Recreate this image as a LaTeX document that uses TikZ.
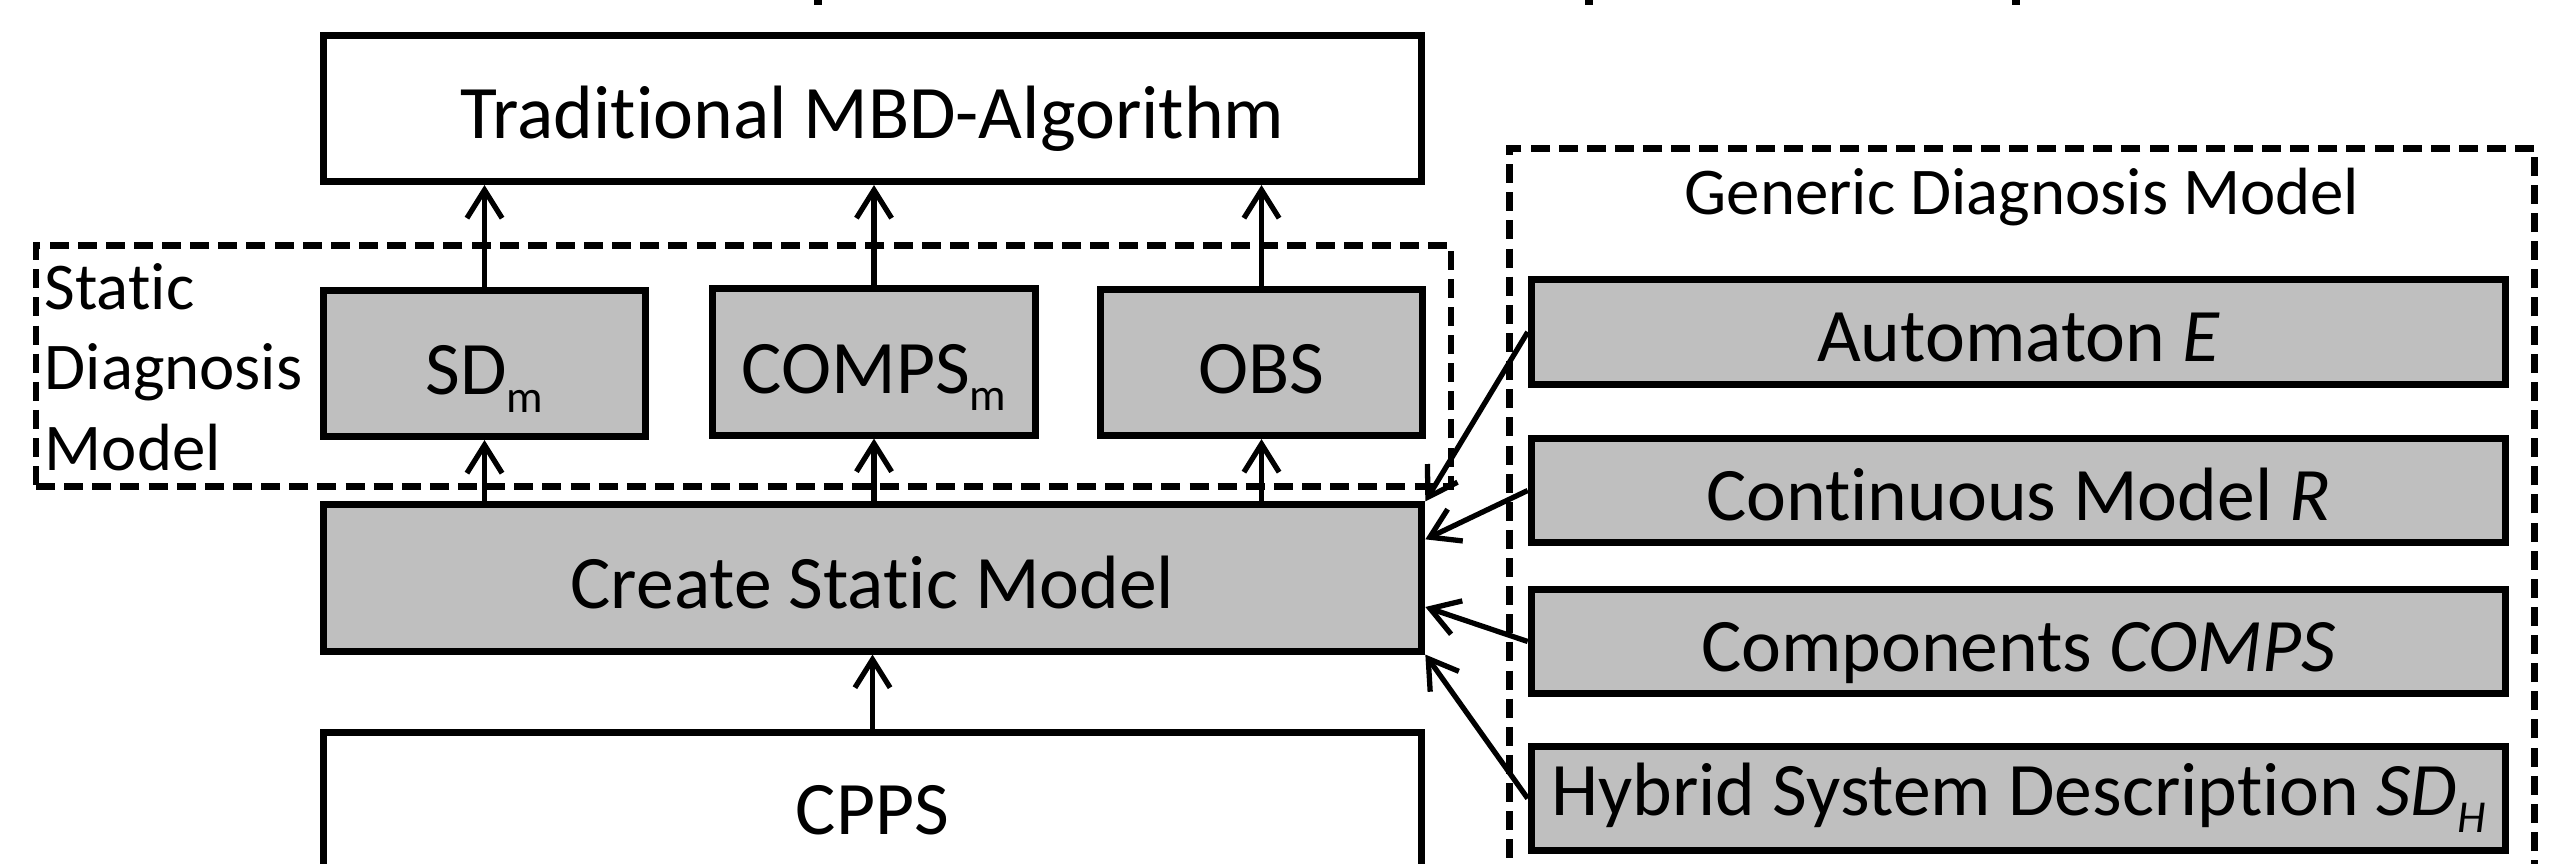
\documentclass[tikz,border=0pt]{standalone}
\usepackage{fontspec}
\setmainfont{Carlito}[Ligatures={NoCommon,NoContextual}]
\usetikzlibrary{arrows.meta,calc}
\definecolor{boxgray}{RGB}{191,191,191}
\newcommand\mainfs{\fontsize{21.5}{25}\selectfont}
\newcommand\labfs{\fontsize{19}{22.8}\selectfont}
\newcommand\subtx[1]{\raisebox{-5pt}{\fontsize{13}{13}\selectfont #1}}
\begin{document}
\begin{tikzpicture}[x=0.01cm,y=-0.01cm,
  bigbox/.style={draw=black, line width=2pt, minimum width=10.98cm, minimum height=1.46cm,
    inner sep=0pt, font=\mainfs, text height=0.6cm, text depth=0pt},
  smallbox/.style={draw=black, fill=boxgray, line width=2pt, minimum width=3.22cm, minimum height=1.46cm,
    inner sep=0pt, font=\mainfs, text height=0.62cm, text depth=0pt},
  rbox/.style={draw=black, fill=boxgray, line width=2pt, minimum width=9.74cm, minimum height=1.04cm,
    inner sep=0pt, font=\mainfs, text height=0.59cm, text depth=0pt},
  dashbox/.style={draw=black, line width=1.9pt, dash pattern=on 5.4pt off 2.6pt, inner sep=0pt},
  arr/.style={line width=1.5pt, -{Straight Barb[length=8pt,width=10pt,line width=1.5pt]}}]
\useasboundingbox (0,0) rectangle (2563,864);
\clip (0,0) rectangle (2563,864);
% fragments of a cut-off title line
\fill (814,0) rectangle (822,5);
\fill (1585,0) rectangle (1593,5);
\fill (2012,0) rectangle (2020,5);
% dashed groups
\node[dashbox, minimum width=14.14cm, minimum height=2.41cm] (static) at (743.5,366) {};
\node[dashbox, minimum width=10.25cm, minimum height=8.02cm] (generic) at (2022,549.5) {};
\node[anchor=north west, inner sep=0pt, align=left, font=\labfs] (staticlbl) at (44,263) {Static\\Diagnosis\\Model};
\node[anchor=base, inner sep=0pt, font=\labfs] (genlbl) at (2022,215) {Generic Diagnosis Model};
% left column
\node[bigbox] (trad) at (872.5,108.5) {Traditional MBD-Algorithm};
\node[smallbox] (sd) at (484.5,363.5) {SD\subtx{m}};
\node[smallbox] (comps) at (874,362) {COMPS\subtx{m}};
\node[smallbox] (obs) at (1261.5,362.5) {OBS};
\node[bigbox, fill=boxgray] (create) at (872.5,578) {Create Static Model};
\node[bigbox, minimum height=1.43cm] (cpps) at (872.5,804) {CPPS};
% right column
\node[rbox] (aut) at (2018.5,332) {Automaton \textit{E}};
\node[rbox] (cont) at (2018.5,490.5) {Continuous Model \textit{R}};
\node[rbox] (compn) at (2018.5,641.5) {Components \textit{COMPS}};
\node[rbox, text height=0.33cm] (hyb) at (2018.5,798.5) {Hybrid System Description \textit{SD}\subtx{\textit{H}}};
% arrows
\foreach \n in {sd,comps,obs}{
  \draw[arr] (\n.south |- create.north) -- (\n.south);
  \draw[arr] (\n.north) -- (\n.north |- trad.south);
}
\draw[arr] (cpps.north) -- (create.south);
\draw[arr] (aut.west) -- (create.north east);
\draw[arr] (cont.west) -- (create.4);
\draw[arr] (compn.west) -- (create.-3.5);
\draw[arr] (hyb.west) -- (create.south east);
\end{tikzpicture}
\end{document}
